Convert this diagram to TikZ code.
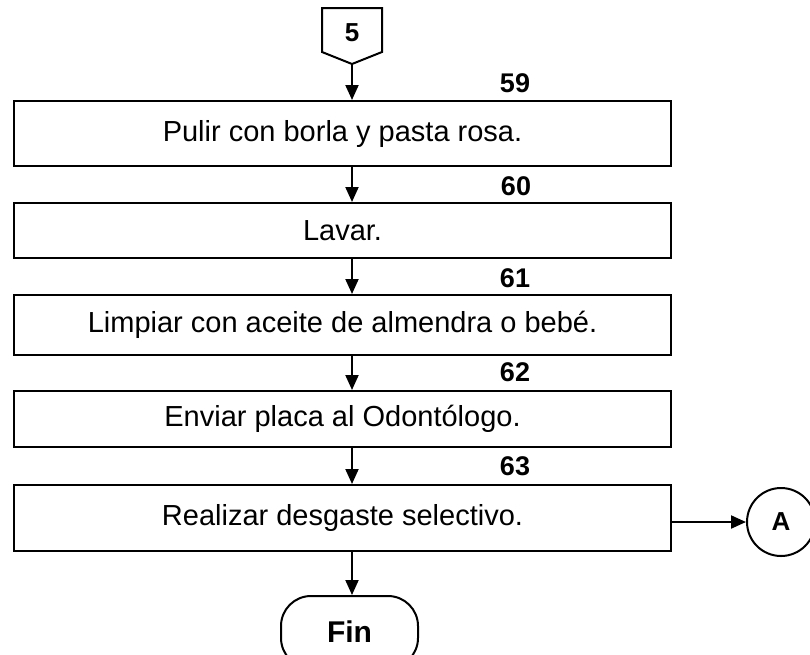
\documentclass[tikz,border=0pt]{standalone}
\usepackage{fontspec}
\setmainfont{Liberation Sans}
\usetikzlibrary{arrows.meta}
\begin{document}
\begin{tikzpicture}[x=1pt,y=-1pt, line width=2pt,
 procbox/.style={draw, minimum width=657pt, inner sep=0pt, anchor=north west, font=\fontsize{29}{32}\selectfont},
 numlbl/.style={font=\bfseries\fontsize{27}{30}\selectfont},
 flow/.style={-{Triangle[length=15pt,width=13pt]}}]
\useasboundingbox (0,0) rectangle (810,654);
\clip (0,0) rectangle (810,654);
% off-page connector
\draw (322,8) -- (382,8) -- (382,52) -- (352,64) -- (322,52) -- cycle;
\node[numlbl, font=\bfseries\fontsize{26}{29}\selectfont] (p5) at (352,33) {5};
\coordinate (ax) at (352,64);
% process boxes
\node[procbox, minimum height=65pt] (b1) at (13,100) {Pulir con borla y pasta rosa.};
\node[procbox, minimum height=55pt] (b2) at (13,202) {Lavar.};
\node[procbox, minimum height=60pt] (b3) at (13,294) {Limpiar con aceite de almendra o bebé.};
\node[procbox, minimum height=56pt] (b4) at (13,390) {Enviar placa al Odontólogo.};
\node[procbox, minimum height=66pt] (b5) at (13,484) {Realizar desgaste selectivo.};
% step numbers
\node[numlbl] (n59) at (515,83) {59};
\node[numlbl] (n60) at (516,186) {60};
\node[numlbl] (n61) at (515,278) {61};
\node[numlbl] (n62) at (515,372) {62};
\node[numlbl] (n63) at (515,466) {63};
% connector A and terminator
\node[draw, circle, minimum size=68pt, inner sep=0pt, numlbl, font=\bfseries\fontsize{26}{29}\selectfont] (ca) at (781,522) {A};
\node[draw, rounded corners=30pt, minimum width=137pt, minimum height=72pt, inner sep=0pt, numlbl, font=\bfseries\fontsize{30}{33}\selectfont] (fin) at (349.5,632) {Fin};
% arrows
\draw[flow] (ax) -- (b1.north -| ax);
\draw[flow] (b1.south -| ax) -- (b2.north -| ax);
\draw[flow] (b2.south -| ax) -- (b3.north -| ax);
\draw[flow] (b3.south -| ax) -- (b4.north -| ax);
\draw[flow] (b4.south -| ax) -- (b5.north -| ax);
\draw[flow] (b5.south -| ax) -- (fin.north -| ax);
\draw[flow] (b5.east |- ca.west) -- (ca.west);
\end{tikzpicture}
\end{document}
